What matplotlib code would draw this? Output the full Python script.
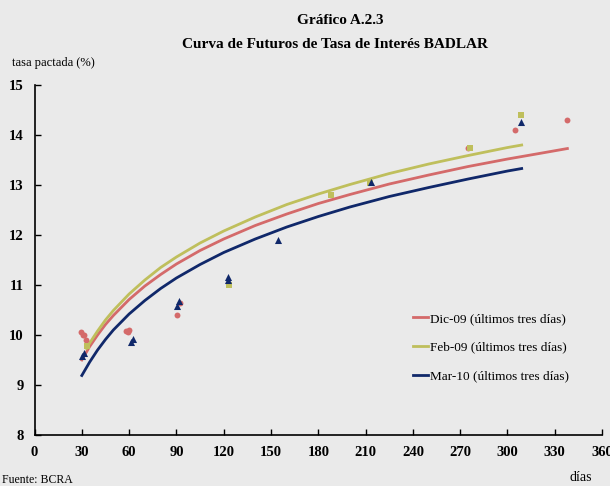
import matplotlib
matplotlib.use('Agg')
import matplotlib.pyplot as plt

# fitted futures curves (days to maturity -> agreed rate, %)
dic_days = [30, 35, 40, 45, 50, 60, 70, 80, 90, 105, 120, 140, 160, 180, 200, 225, 250, 275, 300, 320, 338]
dic_curve = [9.50, 9.77, 10.00, 10.21, 10.39, 10.71, 10.98, 11.21, 11.42, 11.69, 11.92, 12.19,
             12.42, 12.63, 12.81, 13.02, 13.20, 13.37, 13.52, 13.63, 13.73]

feb_days = [33, 35, 40, 45, 50, 60, 70, 80, 90, 105, 120, 140, 160, 180, 200, 225, 250, 275, 300, 309]
feb_curve = [9.73, 9.84, 10.08, 10.30, 10.49, 10.82, 11.10, 11.35, 11.56, 11.84, 12.08, 12.36,
             12.61, 12.82, 13.01, 13.23, 13.42, 13.59, 13.75, 13.80]

mar_days = [30, 35, 40, 45, 50, 60, 70, 80, 90, 105, 120, 140, 160, 180, 200, 225, 250, 275, 300, 309]
mar_curve = [9.19, 9.46, 9.70, 9.91, 10.10, 10.42, 10.69, 10.93, 11.14, 11.41, 11.65, 11.92,
             12.16, 12.37, 12.56, 12.77, 12.95, 13.12, 13.28, 13.33]

# traded futures, last three days
dic_pts_x = [29.5, 30.5, 31.5, 32.5, 58, 59, 60, 90.5, 92.5, 275, 305, 337.5]
dic_pts_y = [10.05, 10.0, 10.0, 9.9, 10.08, 10.05, 10.1, 10.4, 10.65, 13.75, 14.1, 14.3]

feb_pts_x = [33, 123.5, 188, 213, 276, 308.5]
feb_pts_y = [9.78, 11.0, 12.8, 13.05, 13.75, 14.4]

mar_pts_x = [30, 31.5, 61, 62.5, 90.5, 91.8, 122.5, 123, 154.5, 213.5, 308.5]
mar_pts_y = [9.58, 9.63, 9.85, 9.92, 10.57, 10.69, 11.1, 11.17, 11.9, 13.07, 14.26]

x_ticks = [0, 30, 60, 90, 120, 150, 180, 210, 240, 270, 300, 330, 360]
y_ticks = [8, 9, 10, 11, 12, 13, 14, 15]

RED = '#d46a6a'
GREEN = '#bfbf5c'
NAVY = '#10286a'
BG = '#eaeaea'

plt.rcParams['font.family'] = ['Liberation Serif', 'DejaVu Serif']

fig = plt.figure(figsize=(6.1, 4.86), dpi=100, facecolor=BG)
ax = fig.add_axes([0.0566, 0.105, 0.9304, 0.72], facecolor=BG)

ax.plot(dic_days, dic_curve, color=RED, lw=2.0, label='Dic-09 (últimos tres días)')
ax.plot(feb_days, feb_curve, color=GREEN, lw=2.0, label='Feb-09 (últimos tres días)')
ax.plot(mar_days, mar_curve, color=NAVY, lw=2.0, label='Mar-10 (últimos tres días)')

ax.scatter(dic_pts_x, dic_pts_y, marker='o', s=18, color=RED, linewidths=0, zorder=3)
ax.scatter(feb_pts_x, feb_pts_y, marker='s', s=24, color=GREEN, linewidths=0, zorder=3)
ax.scatter(mar_pts_x, mar_pts_y, marker='^', s=26, color=NAVY, linewidths=0, zorder=4)

ax.set_xlim(0, 360)
ax.set_ylim(8, 15)
ax.set_xticks(x_ticks)
ax.set_yticks(y_ticks)
ax.tick_params(direction='in', length=4, width=1, labelsize=10.5, pad=8)
for lbl in ax.get_xticklabels() + ax.get_yticklabels():
    lbl.set_fontweight('bold')

for side in ['top', 'right']:
    ax.spines[side].set_visible(False)
for side in ['left', 'bottom']:
    ax.spines[side].set_linewidth(1.2)

leg = ax.legend(loc='lower right', bbox_to_anchor=(0.962, 0.116), frameon=False,
                fontsize=9.5, handlelength=1.1, handletextpad=0.15, labelspacing=1.25)

fig.text(0.558, 0.958, 'Gráfico A.2.3', ha='center', va='center', fontsize=11, fontweight='bold')
fig.text(0.549, 0.908, 'Curva de Futuros de Tasa de Interés BADLAR', ha='center', va='center',
         fontsize=11, fontweight='bold')
fig.text(0.02, 0.87, 'tasa pactada (%)', ha='left', va='center', fontsize=9)
fig.text(0.933, 0.018, 'días', ha='left', va='center', fontsize=10)
fig.text(0.003, 0.012, 'Fuente: BCRA', ha='left', va='center', fontsize=8.5)

fig.savefig('out.png', dpi=100, facecolor=BG)
